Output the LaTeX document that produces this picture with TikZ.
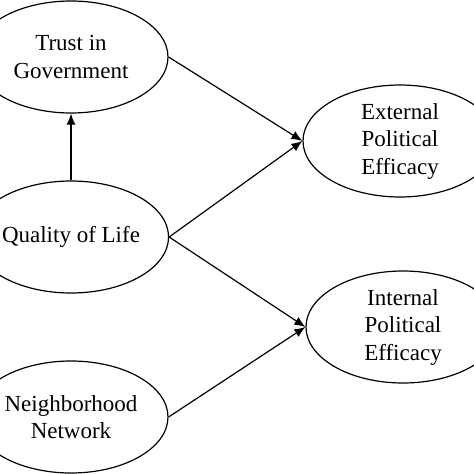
\documentclass[tikz,border=0pt]{standalone}
\usepackage{fontspec}
\setmainfont{Liberation Serif}
\usetikzlibrary{shapes.geometric,arrows.meta}
\begin{document}
\begin{tikzpicture}[x=1pt,y=-1pt,
  latent/.style={draw,ellipse,line width=1.2pt,minimum width=194pt,minimum height=112pt,inner sep=0pt,align=center,font=\fontsize{23}{27.5}\selectfont},
  path/.style={line width=1.2pt,-{Latex[length=11pt,width=9pt]}}]
\clip (0,0) rectangle (474,474);
\fill[white] (0,0) rectangle (474,474);
\node[latent] (trust) at (71,57) {Trust in\\Government};
\node[latent] (qol) at (71,237) {Quality of Life};
\node[latent] (nbh) at (71,417) {Neighborhood\\Network};
\node[latent] (ext) at (400,141) {External\\Political\\Efficacy};
\node[latent] (int) at (403,327) {Internal\\Political\\Efficacy};
\draw[path] (qol.north) -- (trust.south);
\draw[path] (trust.east) -- (ext.west);
\draw[path] (qol.east) -- (ext.west);
\draw[path] (qol.east) -- (int.west);
\draw[path] (nbh.east) -- (int.west);
\end{tikzpicture}
\end{document}
